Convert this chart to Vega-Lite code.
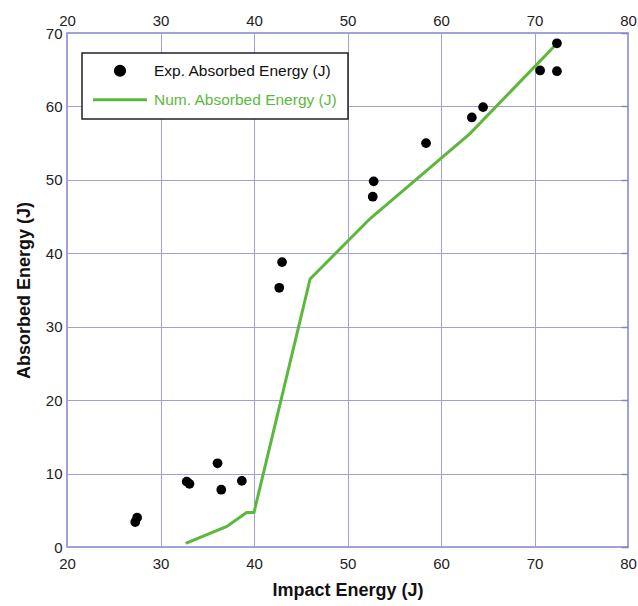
{
  "$schema": "https://vega.github.io/schema/vega-lite/v6.json",
  "width": 561,
  "height": 514,
  "autosize": {"type": "none"},
  "padding": {"left": 67, "top": 33, "right": 10, "bottom": 59},
  "background": "white",
  "config": {
    "font": "Liberation Sans",
    "view": {"stroke": "#8585cc", "strokeWidth": 1.5},
    "axis": {
      "labelFont": "Liberation Sans",
      "labelFontSize": 15,
      "labelColor": "#222",
      "titleFont": "Liberation Sans",
      "titleFontSize": 18,
      "titleFontWeight": "bold",
      "titleColor": "#111",
      "domain": false,
      "gridColor": "#a0a0dc",
      "gridOpacity": 1,
      "gridWidth": 1,
      "tickColor": "#8585cc"
    }
  },
  "data": {
    "values": [
      {"series": "Exp. Absorbed Energy (J)", "impact": 27.3, "absorbed": 3.4},
      {"series": "Exp. Absorbed Energy (J)", "impact": 27.5, "absorbed": 4.0},
      {"series": "Exp. Absorbed Energy (J)", "impact": 32.8, "absorbed": 8.9},
      {"series": "Exp. Absorbed Energy (J)", "impact": 33.1, "absorbed": 8.6},
      {"series": "Exp. Absorbed Energy (J)", "impact": 36.1, "absorbed": 11.4},
      {"series": "Exp. Absorbed Energy (J)", "impact": 36.5, "absorbed": 7.8},
      {"series": "Exp. Absorbed Energy (J)", "impact": 38.7, "absorbed": 9.0},
      {"series": "Exp. Absorbed Energy (J)", "impact": 42.7, "absorbed": 35.3},
      {"series": "Exp. Absorbed Energy (J)", "impact": 43.0, "absorbed": 38.8},
      {"series": "Exp. Absorbed Energy (J)", "impact": 52.7, "absorbed": 47.7},
      {"series": "Exp. Absorbed Energy (J)", "impact": 52.8, "absorbed": 49.8},
      {"series": "Exp. Absorbed Energy (J)", "impact": 58.4, "absorbed": 55.0},
      {"series": "Exp. Absorbed Energy (J)", "impact": 63.3, "absorbed": 58.5},
      {"series": "Exp. Absorbed Energy (J)", "impact": 64.5, "absorbed": 59.9},
      {"series": "Exp. Absorbed Energy (J)", "impact": 70.6, "absorbed": 64.9},
      {"series": "Exp. Absorbed Energy (J)", "impact": 72.4, "absorbed": 64.8},
      {"series": "Exp. Absorbed Energy (J)", "impact": 72.4, "absorbed": 68.6},
      {"series": "Num. Absorbed Energy (J)", "impact": 32.7, "absorbed": 0.5},
      {"series": "Num. Absorbed Energy (J)", "impact": 37.1, "absorbed": 2.8},
      {"series": "Num. Absorbed Energy (J)", "impact": 39.2, "absorbed": 4.7},
      {"series": "Num. Absorbed Energy (J)", "impact": 40.0, "absorbed": 4.7},
      {"series": "Num. Absorbed Energy (J)", "impact": 46.0, "absorbed": 36.5},
      {"series": "Num. Absorbed Energy (J)", "impact": 52.4, "absorbed": 44.7},
      {"series": "Num. Absorbed Energy (J)", "impact": 63.1, "absorbed": 56.3},
      {"series": "Num. Absorbed Energy (J)", "impact": 72.2, "absorbed": 68.3}
    ]
  },
  "layer": [
    {
      "transform": [{"filter": "datum.series === 'Num. Absorbed Energy (J)'"}],
      "mark": {"type": "line", "strokeWidth": 3},
      "encoding": {
        "x": {"field": "impact", "type": "quantitative",
              "scale": {"domain": [20, 80], "nice": false, "zero": false},
              "axis": {"orient": "top", "title": null, "grid": false, "values": [20,30,40,50,60,70,80], "labelPadding": 5, "tickSize": 0, "labelFlush": false}},
        "y": {"field": "absorbed", "type": "quantitative",
              "scale": {"domain": [0, 70], "nice": false},
              "axis": {"orient": "right", "title": null, "grid": false, "labels": false, "values": [0,10,20,30,40,50,60,70], "tickSize": -7, "tickWidth": 1.5}},
        "color": {"field": "series", "type": "nominal",
                  "scale": {"domain": ["Exp. Absorbed Energy (J)", "Num. Absorbed Energy (J)"], "range": ["#000000", "#5cb83c"]},
                  "legend": {
                    "orient": "none", "legendX": 15, "legendY": 20,
                    "title": null,
                    "strokeColor": "#222", "fillColor": "white",
                    "padding": 10, "rowPadding": 10,
                    "labelFont": "Liberation Sans", "labelFontSize": 15.5, "labelOffset": 8,
                    "symbolSize": 85, "labelLimit": 400,
                    "encode": {
                      "symbols": {"update": {
                        "x": {"value": 28},
                        "shape": {"signal": "datum.label === 'Exp. Absorbed Energy (J)' ? 'circle' : 'M-5.85,0H5.85'"},
                        "size": {"value": 85},
                        "fill": {"signal": "datum.label === 'Exp. Absorbed Energy (J)' ? '#000000' : 'transparent'"},
                        "stroke": {"signal": "datum.label === 'Exp. Absorbed Energy (J)' ? 'transparent' : '#5cb83c'"},
                        "strokeWidth": {"value": 3},
                        "opacity": {"value": 1}
                      }},
                      "labels": {"update": {
                        "x": {"value": 62},
                        "fill": {"signal": "datum.label === 'Num. Absorbed Energy (J)' ? '#5cb83c' : '#111111'"}
                      }},
                      "legend": {"update": {"strokeWidth": {"value": 1.5}}}
                    }
                  }}
      }
    },
    {
      "transform": [{"filter": "datum.series === 'Exp. Absorbed Energy (J)'"}],
      "mark": {"type": "point", "filled": true, "size": 95, "opacity": 1},
      "encoding": {
        "x": {"field": "impact", "type": "quantitative",
              "scale": {"domain": [20, 80], "nice": false, "zero": false},
              "axis": {"orient": "bottom", "title": "Impact Energy (J)", "grid": true, "values": [20,30,40,50,60,70,80], "labelPadding": 9, "tickSize": 0, "titlePadding": 10, "labelFlush": false}},
        "y": {"field": "absorbed", "type": "quantitative",
              "scale": {"domain": [0, 70], "nice": false},
              "axis": {"orient": "left", "title": "Absorbed Energy (J)", "grid": true, "values": [0,10,20,30,40,50,60,70], "labelPadding": 5, "tickSize": 0, "titlePadding": 12}},
        "color": {"field": "series", "type": "nominal",
                  "scale": {"domain": ["Exp. Absorbed Energy (J)", "Num. Absorbed Energy (J)"], "range": ["#000000", "#5cb83c"]}}
      }
    }
  ],
  "resolve": {"axis": {"x": "independent", "y": "independent"}}
}
